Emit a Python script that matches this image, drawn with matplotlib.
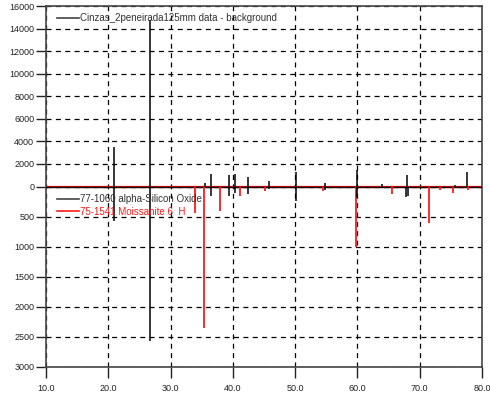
import numpy as np
import matplotlib
matplotlib.use('Agg')
import matplotlib.pyplot as plt
from matplotlib.lines import Line2D

plt.rcParams['font.family'] = ['Liberation Sans', 'DejaVu Sans']

# data - background: peak positions (2theta) and heights (counts)
data_pos = [20.86, 26.62, 35.6, 36.55, 39.45, 40.28, 42.45, 45.8, 50.12, 54.85, 59.95, 64.0, 67.9, 75.6, 77.6]
data_int = [3500, 14800, 350, 1070, 980, 1070, 800, 450, 1250, 270, 1430, 180, 980, 150, 1250]

# 77-1060 alpha-Silicon Oxide reference (plotted downwards)
sio2_pos = [20.86, 26.64, 36.54, 39.46, 40.29, 42.45, 45.79, 50.14, 54.87, 59.96, 64.0, 67.74, 68.14, 75.6, 79.9]
sio2_int = [567, 2570, 150, 150, 100, 120, 40, 233, 60, 183, 30, 180, 150, 30, 30]

# 75-1541 Moissanite 6H reference (plotted downwards)
sic_pos = [33.9, 35.4, 37.9, 41.1, 45.2, 54.5, 59.8, 65.5, 71.5, 73.3, 75.3, 77.7]
sic_int = [435, 2350, 400, 150, 70, 80, 1000, 125, 600, 50, 100, 50]

xticks = [10, 20, 30, 40, 50, 60, 70, 80]
yticks_up = [0, 2000, 4000, 6000, 8000, 10000, 12000, 14000, 16000]
yticks_down = [500, 1000, 1500, 2000, 2500, 3000]


def fwd(y):
    y = np.asarray(y, dtype=float)
    return np.where(y >= 0, y / 16000.0, y / 3000.0)


def inv(y):
    y = np.asarray(y, dtype=float)
    return np.where(y >= 0, y * 16000.0, y * 3000.0)


fig = plt.figure(figsize=(4.9, 4.0), dpi=100)
ax = fig.add_axes([46 / 490, 33 / 400, 436 / 490, 361 / 400])
ax.set_yscale('function', functions=(fwd, inv))
ax.set_xlim(10, 80)
ax.set_ylim(-3000, 16000)

# baseline
ax.axhline(0, color='#d00000', lw=1.6, zorder=2)
ax.axhline(0, color='#111111', lw=0.9, zorder=3)

ax.vlines(data_pos, 0, data_int, color='black', lw=1.1, zorder=4)
ax.vlines(sio2_pos, 0, [-v for v in sio2_int], color='black', lw=1.1, zorder=4)
ax.vlines(sic_pos, 0, [-v for v in sic_int], color='#ff1a1a', lw=1.3, zorder=3)

yt = [-v for v in yticks_down[::-1]] + yticks_up
ax.set_yticks(yt)
ax.set_yticklabels([str(abs(v)) for v in yt])
ax.set_xticks(xticks)
ax.set_xticklabels(['%.1f' % v for v in xticks])
ax.tick_params(axis='y', direction='out', length=7, width=1, pad=1.5, labelsize=6.5, colors='#222222')
ax.tick_params(axis='x', direction='out', length=8, width=1, pad=4, labelsize=6.5, colors='#222222')

ax.grid(True, color='black', ls=(0, (4, 3.5)), lw=0.9)
for s in ax.spines.values():
    s.set_color('#444444')
    s.set_linewidth(1.2)

leg1 = ax.legend([Line2D([], [], color='#444444', lw=1.2)],
                 ['Cinzas_2peneirada125mm data - background'],
                 loc='center left', bbox_to_anchor=(0.025, 0.967), frameon=False,
                 fontsize=7, handlelength=2.3, handletextpad=0.1, borderpad=0, borderaxespad=0)
ax.add_artist(leg1)
leg2 = ax.legend([Line2D([], [], color='#444444', lw=1.2), Line2D([], [], color='#ff1a1a', lw=1.2)],
                 ['77-1060 alpha-Silicon Oxide', '75-1541 Moissanite 6  H'],
                 loc='upper left', bbox_to_anchor=(0.025, 0.479), frameon=False,
                 fontsize=7, handlelength=2.3, handletextpad=0.1, borderpad=0, borderaxespad=0,
                 labelspacing=0.25)
leg2.get_texts()[0].set_color('#333333')
leg2.get_texts()[1].set_color('#ff1a1a')
leg1.get_texts()[0].set_color('#333333')

fig.savefig('out.png', dpi=100)
